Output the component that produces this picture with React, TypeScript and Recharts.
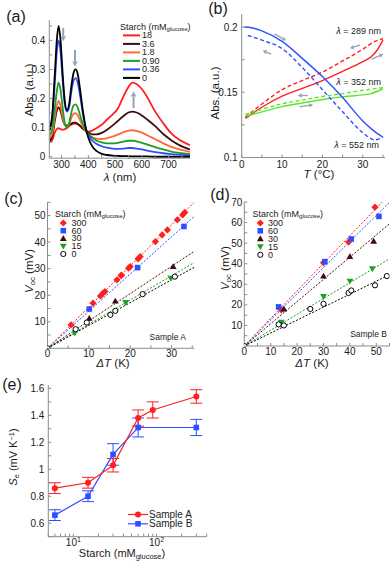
import React from "react"
import { LineChart, Line, ScatterChart, Scatter, XAxis, YAxis, ErrorBar, ReferenceLine } from "recharts"

const FONT = "'Liberation Sans', Arial, Helvetica, sans-serif"
const INK = "#1b1b1b"
const FRAME = "#8c8c8c"
const ARROW = "#8fa4b8"

const RED = "#ff1f1f"
const BROWN = "#3f0d0d"
const ORANGE = "#ff6a38"
const GREEN = "#1f9e1f"
const BLUE = "#2c50ff"
const BLACK = "#000000"
const LIME = "#5ee62c"

// ---------- (a) absorption spectra ----------
const wavelengths = [255, 265, 275, 282, 289, 296, 305, 312, 320, 328, 336, 344, 352, 360, 370, 380, 390, 400, 415, 430, 450, 470, 490, 510, 530, 550, 565, 580, 600, 620, 650, 680, 710, 740, 780]
const abs18 = [0.05, 0.057, 0.085, 0.095, 0.098, 0.095, 0.093, 0.095, 0.099, 0.105, 0.11, 0.113, 0.114, 0.112, 0.106, 0.097, 0.09, 0.086, 0.09, 0.098, 0.11, 0.128, 0.145, 0.165, 0.205, 0.24, 0.255, 0.25, 0.233, 0.205, 0.155, 0.115, 0.08, 0.058, 0.04]
const abs3_6 = [0.055, 0.07, 0.125, 0.158, 0.17, 0.157, 0.125, 0.11, 0.108, 0.11, 0.114, 0.117, 0.117, 0.113, 0.105, 0.096, 0.089, 0.083, 0.077, 0.077, 0.082, 0.093, 0.107, 0.123, 0.139, 0.152, 0.155, 0.152, 0.142, 0.128, 0.105, 0.078, 0.057, 0.04, 0.025]
const abs1_8 = [0.065, 0.08, 0.14, 0.175, 0.192, 0.175, 0.13, 0.108, 0.103, 0.112, 0.132, 0.147, 0.15, 0.142, 0.123, 0.103, 0.088, 0.077, 0.067, 0.062, 0.061, 0.064, 0.069, 0.076, 0.084, 0.09, 0.091, 0.089, 0.083, 0.074, 0.06, 0.046, 0.034, 0.025, 0.017]
const abs0_90 = [0.075, 0.095, 0.17, 0.225, 0.255, 0.23, 0.16, 0.115, 0.1, 0.115, 0.15, 0.175, 0.18, 0.17, 0.14, 0.11, 0.09, 0.077, 0.066, 0.056, 0.049, 0.046, 0.046, 0.048, 0.052, 0.055, 0.055, 0.053, 0.048, 0.042, 0.033, 0.025, 0.018, 0.013, 0.009]
const abs0_36 = [0.1, 0.14, 0.26, 0.36, 0.4, 0.36, 0.25, 0.18, 0.155, 0.17, 0.22, 0.26, 0.27, 0.255, 0.205, 0.145, 0.1, 0.075, 0.055, 0.045, 0.036, 0.031, 0.028, 0.027, 0.028, 0.03, 0.03, 0.028, 0.025, 0.021, 0.016, 0.012, 0.009, 0.007, 0.005]
const abs0 = [0.09, 0.14, 0.29, 0.4, 0.45, 0.4, 0.27, 0.19, 0.16, 0.18, 0.24, 0.285, 0.3, 0.285, 0.225, 0.155, 0.1, 0.065, 0.035, 0.02, 0.01, 0.006, 0.004, 0.003, 0.002, 0.002, 0.001, 0.001, 0.001, 0.001, 0, 0, 0, 0, 0]
const spectraLabels = ["18", "3.6", "1.8", "0.90", "0.36", "0"]
const spectraColors = [RED, BROWN, ORANGE, GREEN, BLUE, BLACK]
const spectraSeries = [abs18, abs3_6, abs1_8, abs0_90, abs0_36, abs0]
// arrows: [wavelength, from, to]
const spectraArrows = [
  [306, 0.443, 0.397],
  [350, 0.367, 0.31],
  [569, 0.167, 0.224],
]

// ---------- (b) temperature loops ----------
const t289Heat = [0.9, 5, 10, 15, 20, 25, 30, 32, 33.5, 35]
const a289Heat = [0.13, 0.1385, 0.147, 0.153, 0.159, 0.166, 0.1735, 0.177, 0.182, 0.19]
const t289Cool = [0.9, 5, 10, 15, 20, 25, 30, 33, 35]
const a289Cool = [0.131, 0.141, 0.152, 0.159, 0.1655, 0.174, 0.183, 0.189, 0.191]
const t352Heat = [0.9, 5, 10, 15, 20, 25, 30, 32, 35]
const a352Heat = [0.1315, 0.135, 0.139, 0.1418, 0.1445, 0.1465, 0.148, 0.149, 0.1527]
const t352Cool = [0.9, 5, 10, 15, 20, 25, 30, 33, 35]
const a352Cool = [0.133, 0.137, 0.1412, 0.144, 0.1468, 0.149, 0.1515, 0.1528, 0.1535]
const t552Heat = [0.7, 2.5, 5, 10, 15, 20, 25, 30, 32.5, 35]
const a552Heat = [0.2, 0.1995, 0.197, 0.189, 0.176, 0.162, 0.146, 0.128, 0.121, 0.1155]
const t552Cool = [1.5, 5, 10, 15, 20, 25, 30, 33, 35]
const a552Cool = [0.1935, 0.19, 0.1835, 0.169, 0.152, 0.135, 0.119, 0.1135, 0.1155]
// arrows: [tFrom, aFrom, tTo, aTo]
const loopArrows = [
  [8.1, 0.1948, 11.0, 0.1896],
  [7.3, 0.1793, 5.2, 0.1819],
  [29.3, 0.1862, 26.8, 0.1837],
  [32.2, 0.1754, 35.1, 0.1793],
  [16.4, 0.1475, 13.9, 0.1475],
  [14.3, 0.1388, 17.7, 0.1405],
]

// ---------- (c) Sample A, Voc vs dT ----------
const cLabels = ["300", "60", "30", "15", "0"]
const cA300x = [5.7, 11, 12.8, 13.4, 13.9, 16.8, 17.8, 17.9, 19.6, 20, 21.9, 22.4, 26.1, 27.7, 29, 31.4, 32.7, 33.2]
const cA300y = [8.8, 17, 19.7, 20.7, 21.4, 25.8, 27.4, 27.6, 30.2, 30.8, 33.7, 34.5, 40.2, 42.7, 44.6, 48.4, 50.3, 51.2]
const cA60x = [10.1, 21.8, 33]
const cA60y = [14.8, 30.4, 45.9]
const cA30x = [10.1, 16.4, 30.4]
const cA30y = [11.3, 17.8, 30.8]
const cA15x = [6.6, 18.9, 29.8]
const cA15y = [5.7, 17.2, 26.4]
const cA0x = [0, 6.8, 9.5, 15.2, 16.4, 23, 30.8]
const cA0y = [0, 7.2, 9.7, 12.6, 14.1, 20.4, 27]
const fitSlopesA = [1.55, 1.4, 1.03, 0.91, 0.86]

// ---------- (d) Sample B, Voc vs dT ----------
const dB300x = [14, 30, 39.5, 49.5]
const dB300y = [17.5, 40.5, 50.5, 67.5]
const dB60x = [13, 30.5, 40.5, 51]
const dB60y = [19, 41, 52, 63]
const dB30x = [15, 30, 40, 49]
const dB30y = [18, 34, 43.5, 51]
const dB15x = [14, 30, 40, 48.5]
const dB15y = [11.5, 24, 31.5, 37.5]
const dB0x = [0, 13, 15, 25, 30, 39.5, 40.5, 49.5, 54]
const dB0y = [0, 10.5, 10, 18, 20.5, 25.8, 27, 29.5, 34]
const fitSlopesB = [1.34, 1.27, 1.08, 0.77, 0.63]

const vocColors = [RED, BLUE, BROWN, GREEN, BLACK]
const vocMarkers = ["diamond", "square", "triUp", "triDown", "open"]

// ---------- (e) Seebeck coefficient vs starch ----------
const starchA = [6, 15, 30, 60, 90, 300]
const seA = [0.86, 0.9, 1.03, 1.38, 1.44, 1.54]
const errA = [0.04, 0.04, 0.05, 0.06, 0.06, 0.05]
const starchB = [6, 15, 30, 60, 300]
const seB = [0.66, 0.8, 1.11, 1.31, 1.31]
const errB = [0.04, 0.04, 0.08, 0.07, 0.06]

// ---------- helpers ----------
const AXIS_LINE = { stroke: FRAME, strokeWidth: 1 }
const TICK_LINE = { stroke: FRAME, strokeWidth: 1 }
const TICK = { fontSize: 10, fill: INK, fontFamily: FONT }

const labelOnly = (majors: number[]) => (v: number) => (majors.includes(v) ? String(v) : "")
const pts = (xs: number[], ys: number[]) => xs.map((x, i) => ({ x, y: ys[i] }))
const fitLine = (slope: number, xMax: number, yMax: number) => {
  const xEnd = Math.min(xMax, yMax / slope)
  return [{ x: 0, y: 0 }, { x: xEnd, y: slope * xEnd }]
}

function marker(kind: string, cx: number, cy: number, color: string) {
  if (kind === "diamond") {
    const r = 3.6
    return <polygon points={`${cx},${cy - r} ${cx + r},${cy} ${cx},${cy + r} ${cx - r},${cy}`} fill={color} />
  }
  if (kind === "square") {
    const r = 2.8
    return <rect x={cx - r} y={cy - r} width={2 * r} height={2 * r} fill={color} />
  }
  if (kind === "triUp") {
    const r = 3.4
    return <polygon points={`${cx},${cy - r} ${cx + r},${cy + r * 0.75} ${cx - r},${cy + r * 0.75}`} fill={color} />
  }
  if (kind === "triDown") {
    const r = 3.4
    return <polygon points={`${cx},${cy + r} ${cx + r},${cy - r * 0.75} ${cx - r},${cy - r * 0.75}`} fill={color} />
  }
  if (kind === "open") {
    return <circle cx={cx} cy={cy} r={2.6} fill="#fff" stroke={color} strokeWidth={1} />
  }
  if (kind === "dot") {
    return <circle cx={cx} cy={cy} r={3} fill={color} />
  }
  return <rect x={cx - 2.7} y={cy - 2.7} width={5.4} height={5.4} fill={color} />
}

const noMarker = () => <g />

const arrowShape = (color: string, width: number, head: number) => (p: any) => {
  const { x1, y1, x2, y2 } = p
  const dx = x2 - x1
  const dy = y2 - y1
  const len = Math.hypot(dx, dy) || 1
  const ux = dx / len
  const uy = dy / len
  const bx = x2 - ux * head
  const by = y2 - uy * head
  const px = -uy * head * 0.55
  const py = ux * head * 0.55
  return (
    <g>
      <line x1={x1} y1={y1} x2={bx} y2={by} stroke={color} strokeWidth={width} />
      <polygon points={`${x2},${y2} ${bx + px},${by + py} ${bx - px},${by - py}`} fill={color} />
    </g>
  )
}

function frameAxes(xDomain: number[], xTicks: number[], yDomain: number[], yTicks: number[], xScale: any = "auto") {
  return [
    <XAxis key="ftop" xAxisId="top" orientation="top" type="number" scale={xScale} domain={xDomain} ticks={xTicks}
      interval={0} height={0} tick={false} tickSize={-3} axisLine={AXIS_LINE} tickLine={TICK_LINE} allowDataOverflow />,
    <YAxis key="fright" yAxisId="right" orientation="right" type="number" domain={yDomain} ticks={yTicks}
      interval={0} width={0} tick={false} tickSize={-3} axisLine={AXIS_LINE} tickLine={TICK_LINE} allowDataOverflow />,
  ]
}

function Txt({ x, y, size = 11, align = "middle", rotate = false, children }: any) {
  const tx = align === "start" ? "0" : align === "end" ? "-100%" : "-50%"
  return (
    <div
      style={{
        position: "absolute",
        left: x,
        top: y,
        transform: `translate(${tx}, -50%)${rotate ? " rotate(-90deg)" : ""}`,
        whiteSpace: "nowrap",
        lineHeight: 1,
        fontSize: size,
        color: INK,
        fontFamily: FONT,
      }}
    >
      {children}
    </div>
  )
}

const Sub = ({ children }: any) => (
  <span style={{ fontSize: "0.68em", position: "relative", top: "0.3em" }}>{children}</span>
)
const Sup = ({ children }: any) => (
  <span style={{ fontSize: "0.68em", position: "relative", top: "-0.45em" }}>{children}</span>
)

const LogTick = (p: any) => {
  const v = p.payload.value
  const e = Math.round(Math.log10(v))
  if (Math.abs(Math.pow(10, e) - v) > 1e-9) return <g />
  return (
    <text x={p.x} y={p.y} dy="0.71em" textAnchor="middle" fontSize={10} fill={INK} fontFamily={FONT}>
      10<tspan dy={-4} fontSize={7}>{e}</tspan>
    </text>
  )
}

// ---------- panels ----------
const spectraRows = wavelengths.map((wl, i) => {
  const row: any = { wl }
  spectraSeries.forEach((s, k) => (row["s" + k] = s[i]))
  return row
})
const wlTicks = [300, 350, 400, 450, 500, 550, 600, 650, 700, 750]
const absTicks = [0, 0.05, 0.1, 0.15, 0.2, 0.25, 0.3, 0.35, 0.4, 0.45]

function PanelA() {
  const xd = [254, 780]
  const yd = [-0.005, 0.47]
  return (
    <LineChart width={196} height={190} data={spectraRows} margin={{ top: 20, right: 6, bottom: 15.8, left: 0.3 }}>
      <XAxis type="number" dataKey="wl" domain={xd} ticks={wlTicks} interval={0} allowDataOverflow height={16}
        tickSize={-3} tickMargin={6} axisLine={AXIS_LINE} tickLine={TICK_LINE} tick={TICK}
        tickFormatter={labelOnly([300, 400, 500, 600, 700])} />
      <YAxis type="number" domain={yd} ticks={absTicks} interval={0} allowDataOverflow width={49}
        tickSize={-3} tickMargin={7} axisLine={AXIS_LINE} tickLine={TICK_LINE} tick={TICK}
        tickFormatter={labelOnly([0, 0.1, 0.2, 0.3, 0.4])} />
      {frameAxes(xd, wlTicks, yd, absTicks)}
      {spectraSeries.map((_, k) => (
        <Line key={k} type="monotone" dataKey={"s" + k} stroke={spectraColors[k]} strokeWidth={1.8}
          dot={false} activeDot={false} isAnimationActive={false} />
      ))}
      {spectraArrows.map(([wl, from, to], i) => (
        <ReferenceLine key={i} segment={[{ x: wl, y: from }, { x: wl, y: to }]} ifOverflow="visible"
          shape={arrowShape(ARROW, 2, 5)} />
      ))}
    </LineChart>
  )
}

const tTicks = [0, 5, 10, 15, 20, 25, 30, 35]
const loopTicks = [0.1, 0.125, 0.15, 0.175, 0.2]
const loops = [
  { t: t289Heat, a: a289Heat, color: RED, dash: undefined },
  { t: t289Cool, a: a289Cool, color: RED, dash: "4 2.5" },
  { t: t352Heat, a: a352Heat, color: LIME, dash: undefined },
  { t: t352Cool, a: a352Cool, color: LIME, dash: "4 2.5" },
  { t: t552Heat, a: a552Heat, color: BLUE, dash: undefined },
  { t: t552Cool, a: a552Cool, color: BLUE, dash: "4 2.5" },
]

function PanelB() {
  const xd = [0, 35.5]
  const yd = [0.1, 0.21]
  return (
    <LineChart width={196} height={190} margin={{ top: 14, right: 7, bottom: 16.5, left: 0 }}>
      <XAxis type="number" dataKey="x" domain={xd} ticks={tTicks} interval={0} allowDataOverflow height={16}
        tickSize={-3} tickMargin={6} axisLine={AXIS_LINE} tickLine={TICK_LINE} tick={TICK}
        tickFormatter={labelOnly([0, 10, 20, 30])} />
      <YAxis type="number" domain={yd} ticks={loopTicks} interval={0} allowDataOverflow width={45.7}
        tickSize={-3} tickMargin={7} axisLine={AXIS_LINE} tickLine={TICK_LINE} tick={TICK}
        tickFormatter={labelOnly([0.1, 0.15, 0.2])} />
      {frameAxes(xd, tTicks, yd, loopTicks)}
      {loops.map((s, i) => (
        <Line key={i} data={pts(s.t, s.a)} dataKey="y" type="monotone" stroke={s.color} strokeWidth={1.4}
          strokeDasharray={s.dash} dot={false} activeDot={false} isAnimationActive={false} />
      ))}
      {loopArrows.map(([t1, a1, t2, a2], i) => (
        <ReferenceLine key={i} segment={[{ x: t1, y: a1 }, { x: t2, y: a2 }]} ifOverflow="visible"
          shape={arrowShape(ARROW, 1.3, 4)} />
      ))}
    </LineChart>
  )
}

function VocPanel({ series, slopes, xd, yd, xTicks, xMajors, yTicks, yMajors, yWidth, margin }: any) {
  return (
    <ScatterChart width={196} height={175} margin={margin}>
      <XAxis type="number" dataKey="x" domain={xd} ticks={xTicks} interval={0} allowDataOverflow height={14}
        tickSize={-3} tickMargin={5} axisLine={AXIS_LINE} tickLine={TICK_LINE} tick={TICK}
        tickFormatter={labelOnly(xMajors)} />
      <YAxis type="number" dataKey="y" domain={yd} ticks={yTicks} interval={0} allowDataOverflow width={yWidth}
        tickSize={-3} tickMargin={5} axisLine={AXIS_LINE} tickLine={TICK_LINE} tick={TICK}
        tickFormatter={labelOnly(yMajors)} />
      {frameAxes(xd, xTicks, yd, yTicks)}
      {slopes.map((s: number, i: number) => (
        <Scatter key={"f" + i} data={fitLine(s, xd[1], yd[1])} fill={vocColors[i]} shape={noMarker}
          line={{ stroke: vocColors[i], strokeWidth: 1, strokeDasharray: "2 1.6" }} isAnimationActive={false} />
      ))}
      {series.map((d: any, i: number) => (
        <Scatter key={"p" + i} data={d} fill={vocColors[i]} isAnimationActive={false}
          shape={(p: any) => marker(vocMarkers[i], p.cx, p.cy, vocColors[i])} />
      ))}
    </ScatterChart>
  )
}

const starchTicks = [5, 6, 7, 8, 9, 10, 20, 30, 40, 50, 60, 70, 80, 90, 100, 200, 300, 400]
const seTicks = [0.5, 0.6, 0.7, 0.8, 0.9, 1, 1.1, 1.2, 1.3, 1.4, 1.5, 1.6]

function PanelE() {
  const xd = [5, 400]
  const yd = [0.5, 1.625]
  const dataA = starchA.map((x, i) => ({ x, y: seA[i], err: errA[i] }))
  const dataB = starchB.map((x, i) => ({ x, y: seB[i], err: errB[i] }))
  return (
    <ScatterChart width={220} height={185} margin={{ top: 15, right: 13.3, bottom: 4.3, left: 0 }}>
      <XAxis type="number" dataKey="x" scale="log" domain={xd} ticks={starchTicks} interval={0} allowDataOverflow
        height={14} tickSize={-3} tickMargin={5} axisLine={AXIS_LINE} tickLine={TICK_LINE} tick={LogTick} />
      <YAxis type="number" dataKey="y" domain={yd} ticks={seTicks} interval={0} allowDataOverflow width={48.3}
        tickSize={-3} tickMargin={7} axisLine={AXIS_LINE} tickLine={TICK_LINE} tick={TICK}
        tickFormatter={labelOnly([0.6, 0.8, 1, 1.2, 1.4, 1.6])} />
      {frameAxes(xd, starchTicks, yd, seTicks, "log")}
      <Scatter data={dataB} fill={BLUE} line={{ stroke: BLUE, strokeWidth: 1.2 }} isAnimationActive={false}
        shape={(p: any) => marker("square", p.cx, p.cy, BLUE)}>
        <ErrorBar dataKey="err" direction="y" width={6} stroke={BLUE} strokeWidth={1} />
      </Scatter>
      <Scatter data={dataA} fill={RED} line={{ stroke: RED, strokeWidth: 1.2 }} isAnimationActive={false}
        shape={(p: any) => marker("dot", p.cx, p.cy, RED)}>
        <ErrorBar dataKey="err" direction="y" width={6} stroke={RED} strokeWidth={1} />
      </Scatter>
    </ScatterChart>
  )
}

const Starch = () => (
  <span>
    Starch (mM<Sub>glucose</Sub>)
  </span>
)

export default function App() {
  const vocA = [pts(cA300x, cA300y), pts(cA60x, cA60y), pts(cA30x, cA30y), pts(cA15x, cA15y), pts(cA0x, cA0y)]
  const vocB = [pts(dB300x, dB300y), pts(dB60x, dB60y), pts(dB30x, dB30y), pts(dB15x, dB15y), pts(dB0x, dB0y)]
  const legendRowsC = [223, 230.7, 238.4, 246.2, 254]
  const legendRowsD = [223, 230.8, 238.7, 246.7, 254.8]
  const legendRowsA = [35.4, 43.9, 52.4, 60.9, 69.4, 77.9]

  return (
    <div style={{ position: "absolute", left: 0, top: 0, width: 392, height: 562, background: "#fff", fontFamily: FONT, overflow: "hidden" }}>
      <div style={{ position: "absolute", left: 0, top: 0 }}><PanelA /></div>
      <div style={{ position: "absolute", left: 196, top: 0 }}><PanelB /></div>
      <div style={{ position: "absolute", left: 0, top: 190 }}>
        <VocPanel series={vocA} slopes={fitSlopesA} xd={[0, 35.5]} yd={[0, 55]}
          xTicks={[0, 5, 10, 15, 20, 25, 30, 35]} xMajors={[0, 10, 20, 30]}
          yTicks={[0, 5, 10, 15, 20, 25, 30, 35, 40, 45, 50, 55]} yMajors={[10, 20, 30, 40, 50]}
          yWidth={47.5} margin={{ top: 12.3, right: 1.7, bottom: 2.7, left: 0 }} />
      </div>
      <div style={{ position: "absolute", left: 196, top: 190 }}>
        <VocPanel series={vocB} slopes={fitSlopesB} xd={[0, 55]} yd={[0, 70]}
          xTicks={[0, 5, 10, 15, 20, 25, 30, 35, 40, 45, 50, 55]} xMajors={[0, 10, 20, 30, 40, 50]}
          yTicks={[0, 5, 10, 15, 20, 25, 30, 35, 40, 45, 50, 55, 60, 65, 70]} yMajors={[10, 20, 30, 40, 50, 60, 70]}
          yWidth={48.3} margin={{ top: 12, right: 2.5, bottom: 5, left: 0 }} />
      </div>
      <div style={{ position: "absolute", left: 0, top: 370 }}><PanelE /></div>

      {/* legend swatches */}
      <svg width={392} height={562} style={{ position: "absolute", left: 0, top: 0, pointerEvents: "none" }}>
        {legendRowsA.map((y, i) => (
          <line key={"la" + i} x1={123} x2={140} y1={y} y2={y} stroke={spectraColors[i]} strokeWidth={2} />
        ))}
        {legendRowsC.map((y, i) => (
          <g key={"lc" + i}>{marker(vocMarkers[i], 63.3, y, vocColors[i])}</g>
        ))}
        {legendRowsD.map((y, i) => (
          <g key={"ld" + i}>{marker(vocMarkers[i], 260.3, y, vocColors[i])}</g>
        ))}
        <line x1={128} x2={148} y1={514.5} y2={514.5} stroke={RED} strokeWidth={1.2} />
        {marker("dot", 138, 514.5, RED)}
        <line x1={128} x2={148} y1={523.8} y2={523.8} stroke={BLUE} strokeWidth={1.2} />
        {marker("square", 138, 523.8, BLUE)}
      </svg>

      {/* panel letters */}
      <Txt x={16} y={17} size={16}>(a)</Txt>
      <Txt x={218} y={9} size={16}>(b)</Txt>
      <Txt x={13.5} y={199} size={16}>(c)</Txt>
      <Txt x={220} y={195} size={16}>(d)</Txt>
      <Txt x={12} y={384.5} size={16}>(e)</Txt>

      {/* (a) */}
      <Txt x={30} y={90} size={11.5} rotate>Abs. (a.u.)</Txt>
      <Txt x={120} y={178} size={11.5}><i>λ</i> (nm)</Txt>
      <Txt x={120} y={26.5} size={9} align="start"><Starch /></Txt>
      {spectraLabels.map((l, i) => (
        <Txt key={"ta" + i} x={142} y={legendRowsA[i]} size={9} align="start">{l}</Txt>
      ))}

      {/* (b) */}
      <Txt x={216} y={93} size={11.5} rotate>Abs. (a.u.)</Txt>
      <Txt x={319} y={175} size={11.5}><i>T</i> (°C)</Txt>
      <Txt x={381} y={30.7} size={9} align="end"><i>λ</i> = 289 nm</Txt>
      <Txt x={381} y={81.7} size={9} align="end"><i>λ</i> = 352 nm</Txt>
      <Txt x={379} y={145} size={9} align="end"><i>λ</i> = 552 nm</Txt>

      {/* (c) */}
      <Txt x={29.5} y={271} size={11.5} rotate><i>V</i><Sub>oc</Sub> (mV)</Txt>
      <Txt x={113} y={363.5} size={11.5}><i>ΔT</i> (K)</Txt>
      <Txt x={55} y={213.5} size={9} align="start"><Starch /></Txt>
      {cLabels.map((l, i) => (
        <Txt key={"tc" + i} x={71.5} y={legendRowsC[i]} size={9} align="start">{l}</Txt>
      ))}
      <Txt x={186} y={336.7} size={8.5} align="end">Sample A</Txt>

      {/* (d) */}
      <Txt x={225.5} y={268} size={11.5} rotate><i>V</i><Sub>oc</Sub> (mV)</Txt>
      <Txt x={312} y={363.5} size={11.5}><i>ΔT</i> (K)</Txt>
      <Txt x={252.5} y={213.5} size={9} align="start"><Starch /></Txt>
      {cLabels.map((l, i) => (
        <Txt key={"td" + i} x={268} y={legendRowsD[i]} size={9} align="start">{l}</Txt>
      ))}
      <Txt x={387} y={334} size={8.5} align="end">Sample B</Txt>

      {/* (e) */}
      <Txt x={13} y={457} size={11} rotate><i>S</i><Sub>e</Sub> (mV K<Sup>−1</Sup>)</Txt>
      <Txt x={122} y={553} size={11}><Starch /></Txt>
      <Txt x={149} y={514.5} size={10} align="start">Sample A</Txt>
      <Txt x={149} y={523.8} size={10} align="start">Sample B</Txt>
    </div>
  )
}
